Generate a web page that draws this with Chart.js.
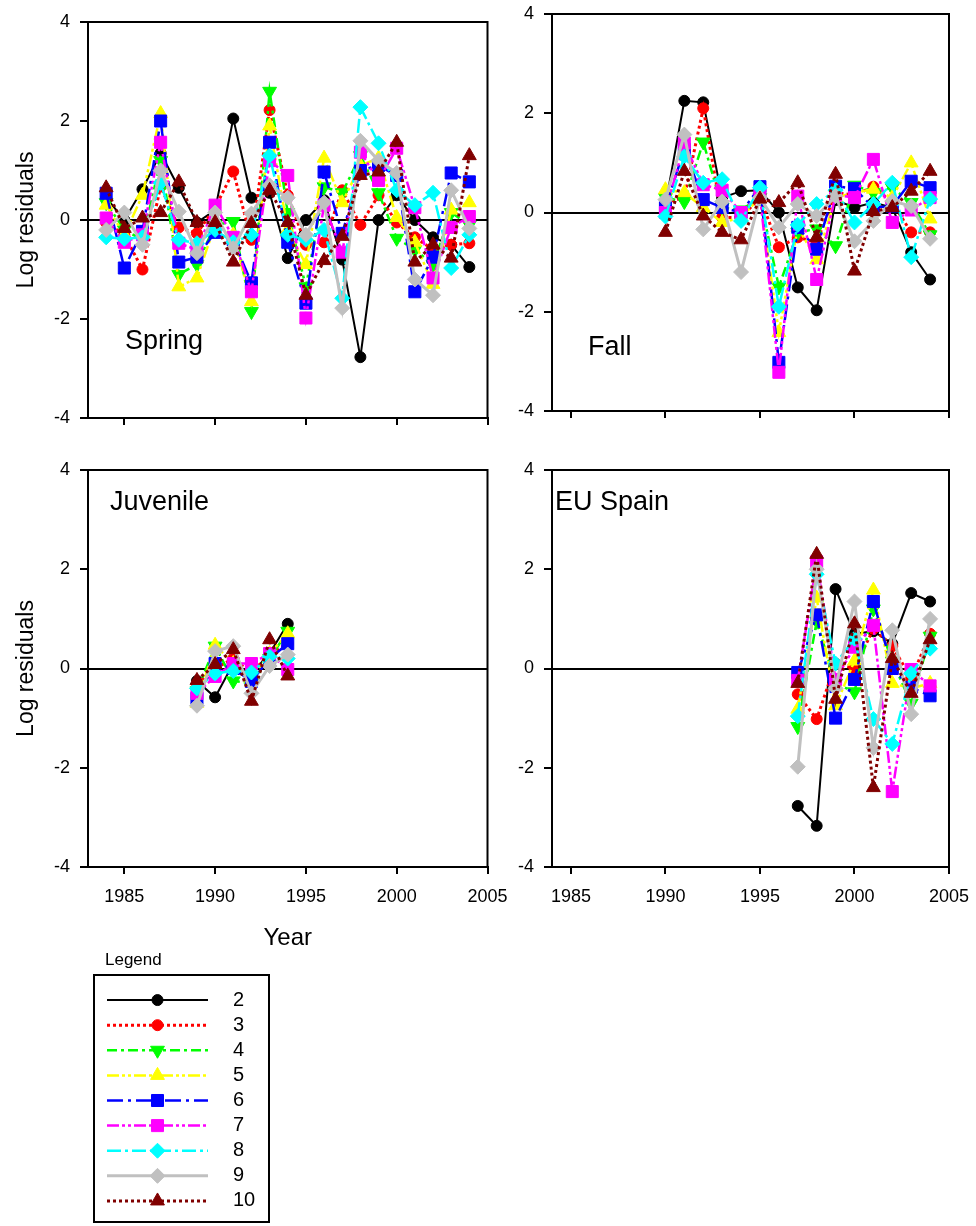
<!DOCTYPE html>
<html>
<head>
<meta charset="utf-8">
<script src="https://cdn.jsdelivr.net/npm/chart.js@4.4.1/dist/chart.umd.min.js"></script>
<style>
  body { margin: 0; background: #fff; }
  #page { position: relative; width: 976px; height: 1226px; background: #fff; overflow: hidden; }
  .panel { position: absolute; }
  #legendTitle { position: absolute; left: 105px; top: 949px; font: 17px "Liberation Sans", Arial, sans-serif; line-height: 22px; }
  #legendBox { position: absolute; left: 93px; top: 974px; width: 177px; height: 249px; border: 2px solid #000; box-sizing: border-box; }
</style>
</head>
<body>
<div id="page">
  <div class="panel" style="left:0;top:0;width:510px;height:430px"><canvas id="spring"></canvas></div>
  <div class="panel" style="left:440px;top:0;width:536px;height:425px"><canvas id="fall"></canvas></div>
  <div class="panel" style="left:0;top:440px;width:520px;height:520px"><canvas id="juvenile"></canvas></div>
  <div class="panel" style="left:440px;top:440px;width:536px;height:470px"><canvas id="euspain"></canvas></div>
  <div id="legendTitle">Legend</div>
  <div id="legendBox"><canvas id="legend"></canvas></div>
</div>
<script>
// ages (one series per age)
const ages = [2, 3, 4, 5, 6, 7, 8, 9, 10];

// Spring survey, 1984-2004, one row per age
const springYears = [1984, 1985, 1986, 1987, 1988, 1989, 1990, 1991, 1992, 1993, 1994,
                     1995, 1996, 1997, 1998, 1999, 2000, 2001, 2002, 2003, 2004];
const springValues = [
  [0.45, 0.0, 0.62, 1.35, 0.65, -0.05, 0.2, 2.05, 0.45, 0.55, -0.77, 0.0, 0.4, -0.8, -2.77, 0.0, 0.5, 0.0, -0.35, -0.5, -0.95],
  [-0.05, -0.3, -1.0, 0.68, -0.15, -0.27, 0.25, 0.98, -0.4, 2.22, 0.5, -0.5, -0.45, 0.6, -0.1, 0.5, -0.05, -0.35, -0.6, -0.5, -0.47],
  [0.35, -0.2, -0.4, 1.2, -1.1, -0.9, -0.1, -0.03, -1.85, 2.6, 0.15, -1.35, 0.67, 0.55, 1.3, 0.55, -0.37, -0.6, -0.9, 0.15, -0.1],
  [0.3, -0.3, 0.5, 2.15, -1.35, -1.17, -0.1, -0.3, -1.65, 1.9, -0.2, -0.9, 1.25, 0.35, 1.1, 1.25, 0.05, -0.45, -1.3, 0.2, 0.35],
  [0.54, -0.97, -0.23, 2.0, -0.85, -0.75, -0.25, -0.4, -1.27, 1.57, -0.45, -1.68, 0.97, -0.27, 1.0, 1.1, 0.9, -1.45, -0.75, 0.95, 0.77],
  [0.04, -0.45, -0.3, 1.57, -0.47, -0.6, 0.3, -0.35, -1.45, 1.2, 0.9, -1.98, 0.3, -0.65, 1.37, 0.8, 1.45, 0.25, -1.17, -0.15, 0.07],
  [-0.35, -0.38, -0.35, 0.75, -0.4, -0.47, -0.2, -0.45, -0.3, 1.3, -0.3, -0.4, -0.2, -1.58, 2.28, 1.55, 0.6, 0.3, 0.55, -0.97, -0.3],
  [-0.2, 0.15, -0.5, 1.0, 0.17, -0.67, 0.15, -0.57, 0.13, 0.7, 0.45, -0.3, 0.35, -1.78, 1.6, 1.2, 0.95, -1.2, -1.52, 0.6, -0.17],
  [0.65, -0.17, 0.04, 0.15, 0.77, -0.05, -0.05, -0.85, -0.07, 0.6, -0.05, -1.52, -0.82, -0.33, 0.9, 0.97, 1.57, -0.85, -0.5, -0.77, 1.3]
];

// Fall survey, 1990-2004
const fallYears = [1990, 1991, 1992, 1993, 1994, 1995, 1996, 1997, 1998, 1999, 2000, 2001, 2002, 2003, 2004];
const fallValues = [
  [0.15, 2.25, 2.22, 0.3, 0.43, 0.45, 0.0, -1.51, -1.97, 0.25, 0.1, 0.2, 0.1, -0.8, -1.35],
  [0.2, 0.3, 2.1, -0.1, -0.1, 0.3, -0.7, -0.5, -0.6, 0.4, 0.35, 0.52, 0.2, -0.4, -0.4],
  [0.3, 0.22, 1.42, 0.1, 0.05, 0.3, -1.5, -0.4, -0.33, -0.67, 0.55, 0.4, 0.5, 0.2, -0.45],
  [0.46, 0.4, 0.1, -0.2, -0.1, 0.3, -2.42, -0.3, -0.95, 0.3, 0.4, 0.47, 0.3, 1.0, -0.13],
  [0.1, 1.27, 0.26, 0.1, 0.0, 0.52, -3.02, -0.3, -0.74, 0.53, 0.48, 0.1, 0.13, 0.63, 0.5],
  [0.0, 1.4, 0.56, 0.45, 0.0, 0.35, -3.22, 0.33, -1.35, 0.35, 0.3, 1.07, -0.2, 0.05, 0.3],
  [-0.08, 1.13, 0.6, 0.67, -0.17, 0.5, -1.9, -0.25, 0.17, 0.45, -0.2, 0.17, 0.6, -0.9, 0.27],
  [0.26, 1.57, -0.34, 0.22, -1.2, 0.3, -0.3, 0.17, -0.07, 0.33, -0.58, -0.17, 0.23, 0.13, -0.53],
  [-0.4, 0.83, -0.07, -0.4, -0.55, 0.27, 0.2, 0.6, -0.5, 0.77, -1.18, 0.02, 0.1, 0.43, 0.83]
];

// Juvenile survey, 1989-1994
const juvenileYears = [1989, 1990, 1991, 1992, 1993, 1994];
const juvenileValues = [
  [-0.25, -0.58, 0.1, -0.1, 0.3, 0.9],
  [-0.3, 0.0, 0.2, -0.1, 0.3, 0.5],
  [-0.45, 0.45, -0.25, -0.3, 0.2, 0.75],
  [-0.7, 0.47, 0.1, -0.2, 0.3, 0.7],
  [-0.6, 0.1, 0.0, -0.26, 0.2, 0.5],
  [-0.5, -0.16, 0.1, 0.1, 0.3, -0.02],
  [-0.4, -0.1, -0.05, -0.08, 0.24, 0.2],
  [-0.75, 0.35, 0.45, -0.5, 0.05, 0.28],
  [-0.24, 0.08, 0.38, -0.66, 0.58, -0.15]
];

// EU Spain survey, 1997-2004
const spainYears = [1997, 1998, 1999, 2000, 2001, 2002, 2003, 2004];
const spainValues = [
  [-2.77, -3.17, 1.6, 0.7, 0.75, 0.5, 1.52, 1.35],
  [-0.52, -1.02, 0.1, 0.0, 0.8, 0.45, -0.2, 0.7],
  [-1.17, 0.95, -0.3, -0.47, 1.2, 0.15, -0.7, 0.65],
  [-0.82, 1.42, -0.75, 0.15, 1.58, -0.3, -0.4, -0.3],
  [-0.08, 1.08, -1.0, -0.22, 1.35, 0.0, -0.38, -0.55],
  [-0.24, 2.15, -0.22, 0.43, 0.87, -2.48, -0.02, -0.35],
  [-0.96, 1.9, 0.1, 0.6, -1.02, -1.52, -0.1, 0.4],
  [-1.98, 2.0, -0.4, 1.35, -1.6, 0.77, -0.92, 1.0],
  [-0.3, 2.3, -0.62, 0.9, -2.4, 0.2, -0.5, 0.58]
];

const yTicks = [-4, -2, 0, 2, 4];

// look of each age series
const ageStyles = [
  { color: '#000000', point: 'circle',   radius: 5.5, rotation: 0,   dash: [],                  width: 2 },
  { color: '#FF0000', point: 'circle',   radius: 5.5, rotation: 0,   dash: [3, 3],              width: 3 },
  { color: '#00FF00', point: 'triangle', radius: 8,   rotation: 180, dash: [10, 4, 3, 4],       width: 2.5 },
  { color: '#FFFF00', point: 'triangle', radius: 8,   rotation: 0,   dash: [12, 3, 3, 3, 3, 3], width: 2.5 },
  { color: '#0000FF', point: 'rect',     radius: 8.5, rotation: 0,   dash: [16, 5, 3, 5],       width: 2.5 },
  { color: '#FF00FF', point: 'rect',     radius: 8.5, rotation: 0,   dash: [12, 3, 3, 3, 3, 3], width: 2.5 },
  { color: '#00FFFF', point: 'rectRot',  radius: 7.5, rotation: 0,   dash: [14, 4, 3, 4],       width: 2.5 },
  { color: '#C0C0C0', point: 'rectRot',  radius: 7.5, rotation: 0,   dash: [],                  width: 3 },
  { color: '#800000', point: 'triangle', radius: 8,   rotation: 0,   dash: [3, 3],              width: 3 }
];

const FONT = '"Liberation Sans", Arial, sans-serif';
Chart.defaults.font.family = FONT;
Chart.defaults.color = '#000';
Chart.defaults.animation = false;

// box around the plot area plus the panel name
const framePlugin = {
  id: 'frame',
  beforeDatasetsDraw(chart, args, opts) {
    const a = chart.chartArea;
    const ctx = chart.ctx;
    ctx.save();
    ctx.strokeStyle = '#000';
    ctx.lineWidth = 2;
    ctx.strokeRect(a.left, a.top, a.right - a.left, a.bottom - a.top);
    if (opts.label) {
      ctx.fillStyle = '#000';
      ctx.font = '27px ' + FONT;
      ctx.textBaseline = 'middle';
      ctx.fillText(opts.label, a.left + opts.dx, a.top + opts.dy);
    }
    ctx.restore();
  }
};

// fixed axis sizes, no extra room asked for the end labels
const fixWidth = w => s => { s.width = w; s.paddingTop = 0; s.paddingBottom = 0; };
const fixHeight = h => s => { s.height = h; s.paddingLeft = 0; s.paddingRight = 0; };

function styleFor(i) {
  const s = ageStyles[i];
  return {
    borderColor: s.color,
    backgroundColor: s.color,
    borderWidth: s.width,
    borderDash: s.dash,
    pointStyle: s.point,
    pointRadius: s.radius,
    pointRotation: s.rotation,
    pointBackgroundColor: s.color,
    pointBorderColor: s.color,
    pointBorderWidth: 1,
    tension: 0
  };
}

function makeDatasets(years, rows) {
  return rows.map((vals, i) => Object.assign({
    label: String(ages[i]),
    data: years.map((yr, k) => ({ x: yr, y: vals[k] })),
    order: rows.length - i
  }, styleFor(i)));
}

function makePanel(id, years, rows, o) {
  return new Chart(document.getElementById(id), {
    type: 'line',
    data: { datasets: makeDatasets(years, rows) },
    options: {
      responsive: true,
      maintainAspectRatio: false,
      layout: { padding: o.padding },
      plugins: {
        legend: { display: false },
        tooltip: { enabled: false },
        frame: { label: o.label, dx: o.dx, dy: o.dy }
      },
      scales: {
        x: {
          type: 'linear',
          min: o.xMin,
          max: 2005,
          afterFit: fixHeight(o.xHeight),
          ticks: {
            display: o.xLabels,
            stepSize: 5,
            includeBounds: false,
            maxRotation: 0,
            padding: 12,
            font: { size: 18 },
            callback: v => String(v)
          },
          grid: { drawOnChartArea: false, tickLength: 7, tickColor: '#000', lineWidth: 2 },
          border: { display: true, color: '#000', width: 2 },
          title: {
            display: !!o.xTitle,
            text: o.xTitle || '',
            font: { size: 24 },
            padding: { top: 0, bottom: 7 }
          }
        },
        y: {
          min: -4,
          max: 4,
          afterFit: fixWidth(o.yWidth),
          afterBuildTicks: s => { s.ticks = yTicks.map(v => ({ value: v })); },
          ticks: { padding: 10, font: { size: 18 }, callback: v => String(v) },
          grid: {
            color: c => (c.tick && c.tick.value === 0 ? '#000' : 'rgba(0,0,0,0)'),
            lineWidth: 2,
            tickLength: 8,
            tickColor: '#000'
          },
          border: { display: true, color: '#000', width: 2 },
          title: {
            display: !!o.yTitle,
            text: o.yTitle || '',
            font: { size: 23 },
            padding: { top: 13, bottom: 0 }
          }
        }
      }
    },
    plugins: [framePlugin]
  });
}

makePanel('spring', springYears, springValues, {
  xMin: 1983, xLabels: false, xHeight: 12, yWidth: 88,
  padding: { left: 0, top: 22, right: 22.5, bottom: 0 },
  yTitle: 'Log residuals', label: 'Spring', dx: 37, dy: 320
});
makePanel('fall', fallYears, fallValues, {
  xMin: 1984, xLabels: false, xHeight: 14, yWidth: 112,
  padding: { left: 0, top: 14, right: 27, bottom: 0 },
  label: 'Fall', dx: 36, dy: 334
});
makePanel('juvenile', juvenileYears, juvenileValues, {
  xMin: 1983, xLabels: true, xHeight: 93, yWidth: 88,
  padding: { left: 0, top: 30, right: 32.5, bottom: 0 },
  yTitle: 'Log residuals', xTitle: 'Year', label: 'Juvenile', dx: 22, dy: 33
});
makePanel('euspain', spainYears, spainValues, {
  xMin: 1984, xLabels: true, xHeight: 43, yWidth: 112,
  padding: { left: 0, top: 30, right: 27, bottom: 0 },
  label: 'EU Spain', dx: 3, dy: 33
});

// legend: one short line per age with its marker in the middle
const legendX = [0, 1, 2];
new Chart(document.getElementById('legend'), {
  type: 'line',
  data: {
    datasets: ages.map((age, i) => Object.assign({
      label: String(age),
      data: legendX.map(x => ({ x: x, y: age })),
      order: ages.length - i
    }, styleFor(i), { pointRadius: legendX.map(x => (x === 1 ? ageStyles[i].radius : 0)) }))
  },
  options: {
    responsive: true,
    maintainAspectRatio: false,
    layout: { padding: { left: 12, top: 11.5, right: 0, bottom: 7.5 } },
    plugins: { legend: { display: false }, tooltip: { enabled: false } },
    scales: {
      x: { type: 'linear', min: 0, max: 2, display: false },
      y: {
        position: 'right',
        reverse: true,
        min: 1.5,
        max: 10.5,
        afterFit: fixWidth(60),
        afterBuildTicks: s => { s.ticks = ages.map(v => ({ value: v })); },
        ticks: { padding: 25, font: { size: 20 }, callback: v => String(v) },
        grid: { display: false, drawTicks: false },
        border: { display: false }
      }
    }
  }
});
</script>
</body>
</html>
